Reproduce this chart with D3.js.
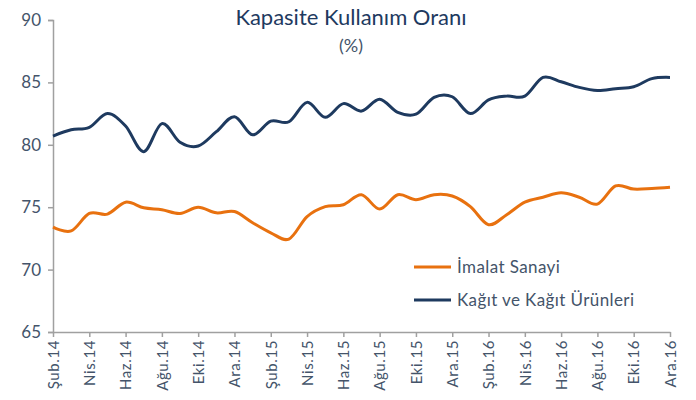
<!DOCTYPE html>
<html><head><meta charset="utf-8">
<script src="https://cdn.jsdelivr.net/npm/d3@7"></script>
<style>body{margin:0;background:#fff}svg{display:block}</style>
</head><body>
<svg id="c" width="696" height="400"></svg>
<script>
const months = ["Şub.14","Mar.14","Nis.14","May.14","Haz.14","Tem.14","Ağu.14","Eyl.14","Eki.14","Kas.14","Ara.14",
"Oca.15","Şub.15","Mar.15","Nis.15","May.15","Haz.15","Tem.15","Ağu.15","Eyl.15","Eki.15","Kas.15","Ara.15",
"Oca.16","Şub.16","Mar.16","Nis.16","May.16","Haz.16","Tem.16","Ağu.16","Eyl.16","Eki.16","Kas.16","Ara.16"];
const imalat = [73.4,73.1,74.5,74.45,75.4,74.95,74.8,74.5,75.0,74.55,74.65,73.75,72.95,72.45,74.25,75.05,75.2,
76.0,74.85,76.0,75.6,76.0,75.9,75.05,73.6,74.4,75.4,75.8,76.15,75.8,75.25,76.7,76.45,76.5,76.6];
const kagit = [80.7,81.2,81.4,82.5,81.5,79.45,81.7,80.2,79.9,81.05,82.25,80.8,81.9,81.85,83.4,82.2,83.3,
82.7,83.65,82.6,82.45,83.8,83.85,82.5,83.6,83.9,83.9,85.4,85.05,84.6,84.35,84.5,84.65,85.3,85.4];
const yTicks = [65,70,75,80,85,90];
const seriesNames = ["İmalat Sanayi","Kağıt ve Kağıt Ürünleri"];
const colors = ["#e8710f","#1e3a5f"];

const svg = d3.select("#c");
const font = "Lato, 'Open Sans', sans-serif";
const x = d3.scalePoint().domain(months).range([53,670]);
const y = d3.scaleLinear().domain([65,90]).range([332,20]);
const axisCol = "#a0a0a0", txtCol = "#44546a";

// y axis
const ya = svg.append("g").attr("transform","translate(53,0)")
  .call(d3.axisLeft(y).tickValues(yTicks).tickSize(5).tickPadding(7));
ya.select(".domain").attr("stroke",axisCol).attr("stroke-width",1.5);
ya.selectAll("line").attr("stroke",axisCol).attr("stroke-width",1.5);
ya.selectAll("text").attr("fill",txtCol).style("font-family",font).style("font-size","17px");

// x axis
const xa = svg.append("g").attr("transform","translate(0,332)")
  .call(d3.axisBottom(x).tickValues(months.filter((d,i)=>i%2===0)).tickSize(5).tickSizeOuter(0));
xa.select(".domain").attr("stroke",axisCol).attr("stroke-width",1.5);
xa.selectAll("line").attr("stroke",axisCol).attr("stroke-width",1.5);
xa.selectAll("text").attr("fill",txtCol).style("font-family",font).style("font-size","15px")
  .style("letter-spacing","0.6px")
  .attr("transform","rotate(-90)").attr("text-anchor","end").attr("dy","0.35em").attr("x",-8).attr("y",0);

const line = d3.line().x((d,i)=>x(months[i])).y(d=>y(d)).curve(d3.curveCardinal.tension(0));
[imalat,kagit].forEach((s,k)=>{
  svg.append("path").datum(s).attr("d",line).attr("fill","none")
    .attr("stroke",colors[k]).attr("stroke-width",3).attr("stroke-linejoin","round");
});

// title
svg.append("text").attr("x",351).attr("y",25).attr("text-anchor","middle")
  .style("font-family",font).style("font-size","22px").attr("fill","#1e3a5f").text("Kapasite Kullanım Oranı");
svg.append("text").attr("x",351).attr("y",52).attr("text-anchor","middle")
  .style("font-family",font).style("font-size","18px").attr("fill",txtCol).text("(%)");

// legend
seriesNames.forEach((n,k)=>{
  const ly = 267 + k*33;
  svg.append("line").attr("x1",414).attr("x2",451).attr("y1",ly).attr("y2",ly)
    .attr("stroke",colors[k]).attr("stroke-width",3);
  svg.append("text").attr("x",457).attr("y",ly).attr("dy","0.35em")
    .style("font-family",font).style("font-size","17px").style("letter-spacing","0.4px")
    .attr("fill",txtCol).text(n);
});
</script>
</body></html>
